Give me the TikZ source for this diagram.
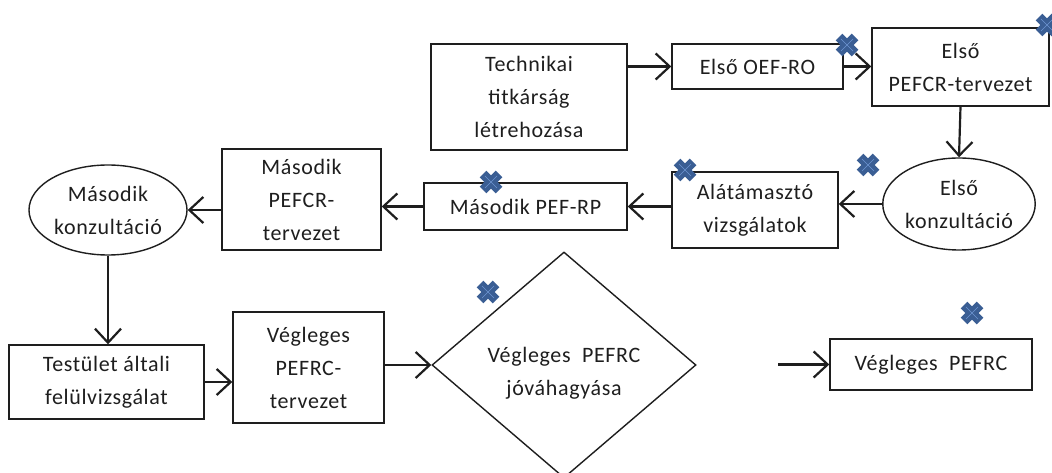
\documentclass[tikz,border=0pt]{standalone}
\usepackage{fontspec}
\setmainfont{Carlito}[LetterSpace=3]
\usetikzlibrary{arrows.meta,shapes.geometric}
\definecolor{xblue}{RGB}{58,94,148}
\definecolor{xlight}{RGB}{110,150,210}
\definecolor{ink}{RGB}{30,30,30}
\begin{document}
\begin{tikzpicture}[x=1bp,y=-1bp,
  txt/.style={align=center, inner sep=0pt, text=ink, font=\fontsize{22bp}{33bp}\selectfont},
  box/.style={txt, draw=ink, line width=1.4bp},
  oval/.style={txt, ellipse, draw=ink, line width=1.4bp},
  arr/.style={line width=2.2bp, draw=ink, arrows={-Straight Barb[length=14bp,width=26bp,line width=2.2bp]}},
  xmark/.pic={
    \draw[line width=9.5bp, draw=xblue] (-8,-8)--(8,8) (-8,8)--(8,-8);
    \draw[line width=0.6bp, draw=xlight] (-6,-6)--(6,6) (-6,6)--(6,-6);
  }]
\path[use as bounding box] (0,0) rectangle (1052,473);

\node[box, minimum width=196bp, minimum height=106bp] (tech) at (529,97) {Technikai\\titkárság\\létrehozása};
\node[box, minimum width=171bp, minimum height=45bp] (oef) at (757.5,66.5) {Első OEF-RO};
\node[box, minimum width=177bp, minimum height=78bp] (pefcr1) at (960.5,67) {Első\\PEFCR-tervezet};
\node[oval, minimum width=142bp, minimum height=92bp] (kons1) at (959,204) {Első\\konzultáció};
\node[box, minimum width=166bp, minimum height=76bp] (alat) at (755,210) {Alátámasztó\\vizsgálatok};
\node[box, minimum width=203bp, minimum height=47bp] (pefrp) at (525.5,206.5) {Második PEF-RP};
\node[box, minimum width=159bp, minimum height=101bp] (pefcr2) at (301.5,199.5) {Második\\PEFCR-\\tervezet};
\node[oval, minimum width=158bp, minimum height=90bp] (kons2) at (108,210) {Második\\konzultáció};
\node[box, minimum width=195bp, minimum height=74bp] (test) at (106.5,382) {Testület általi\\felülvizsgálat};
\node[box, minimum width=151bp, minimum height=111bp] (vegterv) at (308.5,367.5) {Végleges\\PEFRC-\\tervezet};
\node[diamond, draw=ink, line width=1.4bp, inner sep=0pt, minimum width=264bp, minimum height=226bp] (diam) at (564,365) {};
\node[txt] (diamtext) at (564,373) {Végleges\ \ PEFRC\\jóváhagyása};
\node[box, minimum width=202bp, minimum height=51bp] (final) at (931,364.5) {Végleges\ \ PEFRC};
\coordinate (free) at (778,364.5);

\draw[arr] (tech.east |- oef.west) -- (oef.west);
\draw[arr] (oef.east) -- (oef.east -| pefcr1.west);
\draw[arr] (pefcr1.south) -- (kons1.north);
\draw[arr] (kons1.west) -- (kons1.west -| alat.east);
\draw[arr] (alat.west |- pefrp.east) -- (pefrp.east);
\draw[arr] (pefrp.west) -- (pefrp.west -| pefcr2.east);
\draw[arr] (pefcr2.west |- kons2.east) -- (kons2.east);
\draw[arr] (kons2.south) -- (kons2.south |- test.north);
\draw[arr] (test.east) -- (test.east -| vegterv.west);
\draw[arr] (vegterv.east |- diam.west) -- (diam.west);
\draw[arr] (free) -- (final.west);

\pic at (847,45) {xmark};
\pic at (1047,25) {xmark};
\pic at (868,165) {xmark};
\pic at (685,170) {xmark};
\pic at (491,182) {xmark};
\pic at (488,292) {xmark};
\pic at (972,313) {xmark};
\end{tikzpicture}
\end{document}
